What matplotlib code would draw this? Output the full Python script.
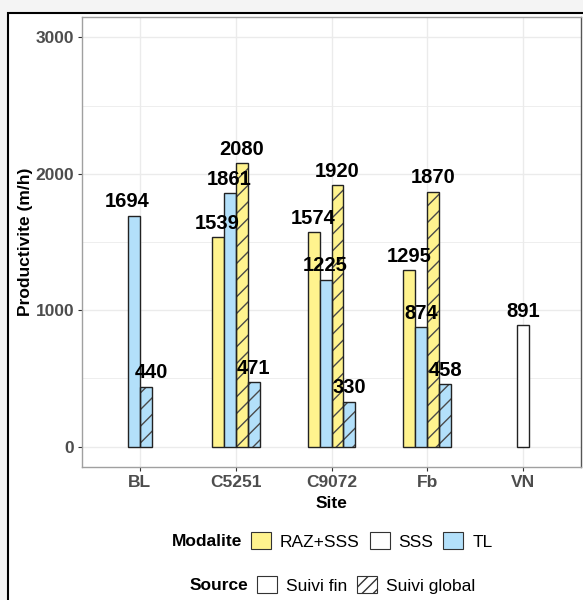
import numpy as np
import matplotlib
matplotlib.use('Agg')
import matplotlib.pyplot as plt
from matplotlib.patches import Patch, Rectangle

plt.rcParams['font.family'] = ['Liberation Sans', 'DejaVu Sans']
plt.rcParams['hatch.linewidth'] = 1.0

# donnees
sites = ['BL', 'C5251', 'C9072', 'Fb', 'VN']
raz_fin = [np.nan, 1539, 1574, 1295, np.nan]
sss_fin = [np.nan, np.nan, np.nan, np.nan, 891]
tl_fin = [1694, 1861, 1225, 874, np.nan]
raz_global = [np.nan, 2080, 1920, 1870, np.nan]
tl_global = [440, 471, 330, 458, np.nan]

yellow = '#FFF38E'
blue = '#B3E0FA'
series = [
    (raz_fin, yellow, False),
    (sss_fin, 'white', False),
    (tl_fin, blue, False),
    (raz_global, yellow, True),
    (tl_global, blue, True),
]

fig = plt.figure(figsize=(5.83, 6.0), dpi=100)
fig.patch.set_facecolor('#F4F4F4')
fig.add_artist(Rectangle((8 / 583, -0.05), 1.0, 1 - 13 / 600 + 0.05,
                         transform=fig.transFigure, facecolor='white',
                         edgecolor='black', lw=1.5, zorder=-10))

ax = fig.add_axes([82 / 583, 1 - 467 / 600, 499 / 583, 450 / 600])

bw = 0.125
for i, site in enumerate(sites):
    present = [(s[i], c, h) for s, c, h in series if not np.isnan(s[i])]
    n = len(present)
    for j, (v, c, h) in enumerate(present):
        x = i + (j - (n - 1) / 2) * bw
        if h:
            ax.bar(x, v, width=bw, color=c, edgecolor='#4a4a4a', lw=0, hatch='//', zorder=2)
            ax.bar(x, v, width=bw, color='none', edgecolor='#222222', lw=1.0, zorder=3)
        else:
            ax.bar(x, v, width=bw, color=c, edgecolor='#222222', lw=1.0, zorder=3)
        xl = i + (j - (n - 1) / 2) * 0.5 / n
        ax.annotate(str(int(v)), (xl, v), xytext=(0, 5.8), textcoords='offset points',
                    ha='center', va='baseline', fontsize=14.5, fontweight='bold', zorder=5)

ax.set_xlim(-0.6, 4.6)
ax.set_ylim(-150, 3150)
ax.set_xticks(range(len(sites)))
ax.set_xticklabels(sites)
ax.set_yticks([0, 1000, 2000, 3000])
ax.set_yticks([500, 1500, 2500], minor=True)
ax.set_axisbelow(True)
ax.grid(which='major', color='#EBEBEB', lw=1.0)
ax.grid(which='minor', axis='y', color='#EBEBEB', lw=0.6)
ax.tick_params(which='major', length=3, width=0.8, color='#333333', pad=2.5,
               labelsize=12.5, labelcolor='#4D4D4D')
ax.tick_params(which='minor', length=0)
for lab in ax.get_xticklabels() + ax.get_yticklabels():
    lab.set_fontweight('bold')
for sp in ax.spines.values():
    sp.set_color('#A0A0A0')
    sp.set_linewidth(1.0)
ax.spines['right'].set_color('#555555')

ax.set_xlabel('Site', fontsize=12.5, fontweight='bold', va='top')
ax.xaxis.set_label_coords(0.5, -0.065)
ax.set_ylabel('Productivite (m/h)', fontsize=12.5, fontweight='bold')
ax.yaxis.set_label_coords(-0.099, 0.5)

# legendes
h1 = [Patch(facecolor=yellow, edgecolor='#333333', lw=0.8),
      Patch(facecolor='white', edgecolor='#333333', lw=0.8),
      Patch(facecolor=blue, edgecolor='#333333', lw=0.8)]
leg1 = fig.legend(h1, ['RAZ+SSS', 'SSS', 'TL'], loc='center left',
                  bbox_to_anchor=(251 / 583, 1 - 541 / 600), ncol=3, frameon=False,
                  fontsize=12.5, handlelength=1.15, handleheight=1.1,
                  handletextpad=0.52, columnspacing=0.57, borderpad=0, borderaxespad=0)
fig.text(242 / 583, 1 - 541 / 600, 'Modalite', ha='right', va='center',
         fontsize=12.5, fontweight='bold')

h2 = [Patch(facecolor='white', edgecolor='#333333', lw=0.8),
      Patch(facecolor='white', edgecolor='#333333', lw=0.8, hatch='///')]
leg2 = fig.legend(h2, ['Suivi fin', 'Suivi global'], loc='center left',
                  bbox_to_anchor=(257 / 583, 1 - 585 / 600), ncol=2, frameon=False,
                  fontsize=12.5, handlelength=1.15, handleheight=1.1,
                  handletextpad=0.52, columnspacing=0.57, borderpad=0, borderaxespad=0)
fig.text(248 / 583, 1 - 585 / 600, 'Source', ha='right', va='center',
         fontsize=12.5, fontweight='bold')

fig.savefig('out.png', dpi=100, facecolor=fig.get_facecolor())
